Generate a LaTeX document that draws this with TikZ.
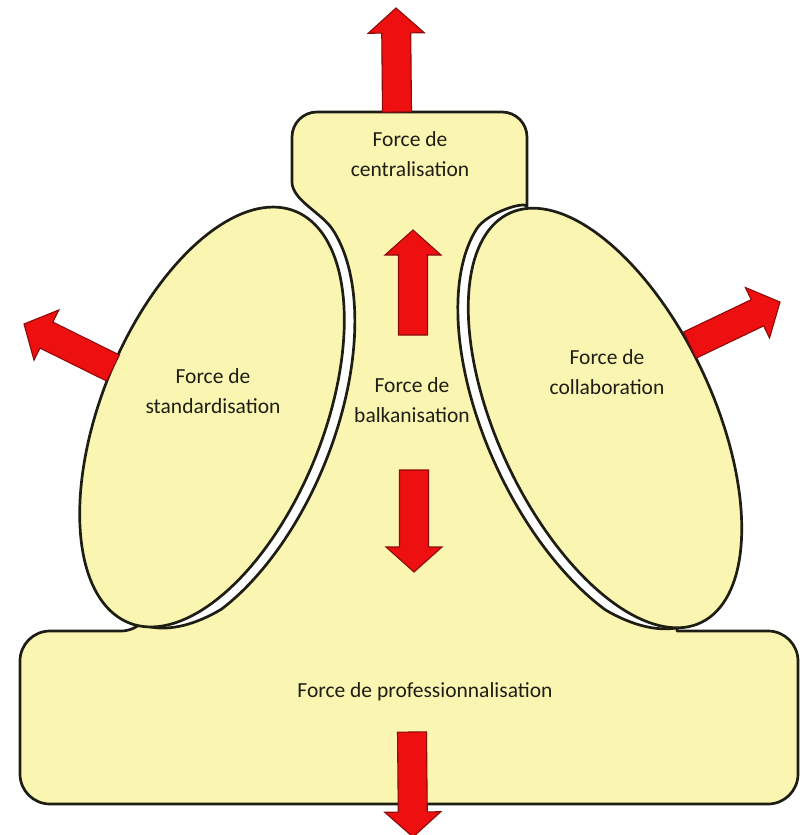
\documentclass[tikz,border=0pt]{standalone}
\usepackage{fontspec}
\setmainfont{Carlito}
\usetikzlibrary{calc}
\definecolor{paleyellow}{RGB}{250,246,178}
\definecolor{arrowred}{RGB}{238,16,16}
\definecolor{arrowedge}{RGB}{140,10,10}
\definecolor{inkline}{RGB}{30,30,20}
\newcommand\blockarrow[3]{%
  \coordinate (#3t) at #1;
  \coordinate (#3h) at #2;
  \coordinate (#3b) at ($(#3h)!25pt!(#3t)$);
  \draw[redarrow] ($(#3t)!14.5pt!90:(#3h)$) -- ($(#3b)!14.5pt!90:(#3h)$) -- ($(#3b)!28pt!90:(#3h)$) -- (#3h) -- ($(#3b)!28pt!-90:(#3h)$) -- ($(#3b)!14.5pt!-90:(#3h)$) -- ($(#3t)!14.5pt!-90:(#3h)$) -- cycle;
}
\tikzset{
  shapeline/.style={fill=paleyellow, draw=inkline, line width=2.7pt, line join=round},
  redarrow/.style={fill=arrowred, draw=arrowedge, line width=1.1pt, line join=miter},
  lbl/.style={font=\fontsize{21.5}{30}\selectfont, align=center, text=inkline, inner sep=0pt}
}
\begin{document}
\begin{tikzpicture}[x=1pt, y=-1pt,
  declare function={dL(\u)=11*min(1,(\u+78.6)/30); dR(\u)=11*min(1,(257.4-\u)/30);}]
\fill[white] (0,0) rectangle (800,835);
\useasboundingbox (0,0) rectangle (800,835);

% central body: top box, neck, middle and bottom box
\path[shapeline]
  (292,182) [rounded corners=25pt] -- (292,112) -- (527,112) -- (527,182) [sharp corners]
  .. controls (527,200) and (487,212.3) .. (476.4,229.2)
  -- plot[domain=108:257.4, samples=80, variable=\t]
     ({605+(108+dR(\t))*0.9063*cos(\t)-(226+dR(\t))*0.4226*sin(\t)},
      {418-(108+dR(\t))*0.4226*cos(\t)-(226+dR(\t))*0.9063*sin(\t)})
  -- (677,631)
  [rounded corners=30pt] -- (798,631) -- (798,804) -- (20,804) -- (20,631) -- (150.8,631) [sharp corners]
  -- plot[domain=-78.6:70, samples=80, variable=\t]
     ({212+(111+dL(\t))*0.9272*cos(\t)+(222+dL(\t))*0.3746*sin(\t)},
      {417+(111+dL(\t))*0.3746*cos(\t)-(222+dL(\t))*0.9272*sin(\t)})
  .. controls (321.8,212.9) and (292,200) .. (292,182) -- cycle;

% left ellipse (standardisation)
\draw[shapeline] plot[domain=0:360, samples=150, variable=\t]
  ({212+102.9*cos(\t)+83.2*sin(\t)}, {417+41.6*cos(\t)-205.8*sin(\t)}) -- cycle;

% right ellipse (collaboration)
\draw[shapeline] plot[domain=0:360, samples=150, variable=\t]
  ({605+97.9*cos(\t)-95.5*sin(\t)}, {418-45.6*cos(\t)-204.8*sin(\t)}) -- cycle;

% red block arrows
\blockarrow{(397,112)}{(396,8)}{top}
\blockarrow{(413,335)}{(413,230)}{up}
\blockarrow{(414,470)}{(414,572)}{down}
\blockarrow{(412,732)}{(413,837)}{bot}
\blockarrow{(113,368)}{(24,324)}{left}
\blockarrow{(690,345)}{(780,302)}{right}

% labels
\node[lbl] (cent) at (410,154) {Force de\\centralisation};
\node[lbl] (std) at (213,391) {Force de\\standardisation};
\node[lbl] (balk) at (412,400) {Force de\\balkanisation};
\node[lbl] (coll) at (607,372) {Force de\\collaboration};
\node[lbl] (prof) at (425,692) {Force de professionnalisation};
\end{tikzpicture}
\end{document}
